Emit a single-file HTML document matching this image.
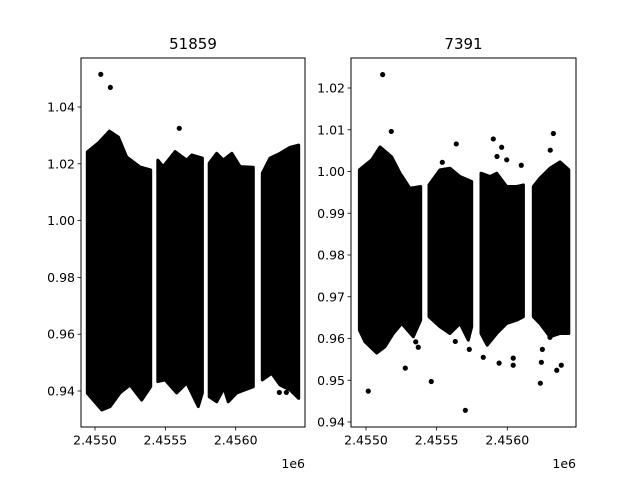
<!DOCTYPE html>
<html><head><meta charset="utf-8">
<style>
body{margin:0;background:#fff;}
svg{display:block;font-family:"DejaVu Sans","Liberation Sans",sans-serif;}
</style></head>
<body>
<svg id="chart" width="640" height="480" xmlns="http://www.w3.org/2000/svg"></svg>
<script>
// ---- Panel 1: 51859 ----
const p1Title = "51859";
const p1YTicks = [0.94, 0.96, 0.98, 1.00, 1.02, 1.04];
const p1XTicks = [2455000, 2455500, 2456000];
const p1XTickLabels = ["2.4550", "2.4555", "2.4560"];
const p1UpperT = [[-55,23,102,166,225,320,396],[446,485,569,652,687,763],[812,865,912,972,1031,1125],[1189,1244,1315,1386,1448]];
const p1UpperF = [[1.0242,1.0273,1.0315,1.0294,1.0224,1.0189,1.0178],[1.0213,1.019,1.0243,1.0213,1.0231,1.022],[1.0202,1.0237,1.0213,1.0237,1.019,1.0188],[1.0167,1.022,1.0237,1.0258,1.0266]];
const p1LowerT = [[-55,48,107,178,249,332,396],[446,498,581,652,734,763],[812,865,917,947,1007,1125],[1189,1256,1315,1386,1448]];
const p1LowerF = [[0.9392,0.9333,0.9345,0.9393,0.9421,0.9368,0.9415],[0.9433,0.9439,0.9393,0.9428,0.9345,0.9393],[0.938,0.9362,0.941,0.9362,0.9393,0.9415],[0.9439,0.9462,0.9421,0.9404,0.9374]];
const p1OutT = [41,109,599,1310,1360];
const p1OutF = [1.0515,1.0469,1.0325,0.9395,0.9395];

// ---- Panel 2: 7391 ----
const p2Title = "7391";
const p2YTicks = [0.94,0.95,0.96,0.97,0.98,0.99,1.00,1.01,1.02];
const p2XTicks = [2455000, 2455500, 2456000];
const p2XTickLabels = ["2.4550", "2.4555", "2.4560"];
const p2UpperT = [[-47,40,99,182,241,311,387],[446,524,594,665,748],[814,878,925,996,1067,1114],[1184,1231,1302,1373,1435]];
const p2UpperF = [[1.0004,1.0028,1.0059,1.0035,0.9996,0.996,0.9964],[0.9968,1.0004,1.0008,0.9988,0.9976],[0.9996,0.9988,0.9996,0.9964,0.9964,0.9968],[0.9964,0.9984,1.0008,1.0023,1.0004]];
const p2LowerT = [[-47,-7,76,134,193,253,335,387],[446,524,594,665,724,748],[814,858,925,996,1067,1114],[1184,1231,1302,1373,1435]];
const p2LowerF = [[0.962,0.9592,0.9565,0.958,0.9612,0.9636,0.9604,0.9644],[0.9652,0.9628,0.9612,0.9636,0.9596,0.9628],[0.9612,0.9584,0.9612,0.9636,0.9644,0.9652],[0.9652,0.9636,0.9604,0.9612,0.9612]];
const p2OutT = [118,179,639,540,901,960,927,996,1099,1326,1304,16,278,462,703,731,632,830,942,1042,1042,1234,1241,1248,1350,1382,370,352,19,1302];
const p2OutF = [1.0232,1.0096,1.0066,1.0022,1.0078,1.0058,1.0036,1.0028,1.0015,1.0091,1.0051,0.9474,0.9529,0.9497,0.9428,0.9574,0.9593,0.9555,0.9541,0.9553,0.9536,0.9493,0.9543,0.9574,0.9524,0.9536,0.9579,0.9592,0.9592,0.9603];

const NS = "http://www.w3.org/2000/svg";
const svg = document.getElementById('chart');
function mk(tag, attrs, parent){
  const e = document.createElementNS(NS, tag);
  for (const k in attrs) e.setAttribute(k, attrs[k]);
  (parent||svg).appendChild(e);
  return e;
}

function panel(cfg){
  const g = mk('g', {});
  
  
  const X = t => cfg.x0px + (t - cfg.t0) * cfg.xScale;
  const Y = f => cfg.y0px - (f - cfg.f0) * cfg.yScale;
  const cid = cfg.name + '-clip';
  const cp = mk('clipPath', {id: cid}, g);
  mk('rect', {x: cfg.L, y: cfg.T, width: cfg.R - cfg.L, height: cfg.B - cfg.T}, cp);
  const data = mk('g', {'clip-path': 'url(#' + cid + ')'}, g);
  
  
  for (let s = 0; s < cfg.upT.length; s++){
    const pts = [];
    for (let i = 0; i < cfg.upT[s].length; i++) pts.push(X(cfg.upT[s][i]).toFixed(1) + ',' + Y(cfg.upF[s][i]).toFixed(1));
    for (let i = cfg.loT[s].length - 1; i >= 0; i--) pts.push(X(cfg.loT[s][i]).toFixed(1) + ',' + Y(cfg.loF[s][i]).toFixed(1));
    const poly = mk('polygon', {points: pts.join(' '), fill: '#000', stroke: '#000', 'stroke-width': 3, 'stroke-linejoin': 'round'}, data);
    
    
  }
  for (let i = 0; i < cfg.outT.length; i++){
    const c = mk('circle', {cx: X(cfg.outT[i]), cy: Y(cfg.outF[i]), r: 2.6, fill: '#000'}, data);
    
    
  }
  const fr = mk('rect', {x: cfg.L, y: cfg.T, width: cfg.R - cfg.L, height: cfg.B - cfg.T, fill: 'none', stroke: '#000', 'stroke-width': 1}, g);
  
  
  cfg.yTicks.forEach(v => {
    const y = Y(v);
    mk('line', {x1: cfg.L - 3.5, x2: cfg.L, y1: y, y2: y, stroke: '#000', 'stroke-width': 0.8}, g);
    const t = mk('text', {x: cfg.L - 6, y: y + 4.5, 'text-anchor': 'end', 'font-size': 12.5}, g);
    t.textContent = v.toFixed(2);
    
    
  });
  cfg.xTicks.forEach((v, i) => {
    const x = X(v - 2455000);
    mk('line', {x1: x, x2: x, y1: cfg.B, y2: cfg.B + 3.5, stroke: '#000', 'stroke-width': 0.8}, g);
    const t = mk('text', {x: x, y: cfg.B + 17.5, 'text-anchor': 'middle', 'font-size': 12.5}, g);
    t.textContent = cfg.xLabels[i];
    
    
  });
  const off = mk('text', {x: cfg.R, y: cfg.B + 41, 'text-anchor': 'end', 'font-size': 12.5}, g);
  off.textContent = '1e6';
  
  
  const ti = mk('text', {x: (cfg.L + cfg.R) / 2, y: cfg.T - 9, 'text-anchor': 'middle', 'font-size': 15}, g);
  ti.textContent = cfg.title;
  
  
}

panel({name: 'panel-51859', title: p1Title, L: 81, R: 305, T: 58, B: 427,
  x0px: 95, t0: 0, xScale: 0.1407, y0px: 391, f0: 0.94, yScale: 2840,
  yTicks: p1YTicks, xTicks: p1XTicks, xLabels: p1XTickLabels,
  upT: p1UpperT, upF: p1UpperF, loT: p1LowerT, loF: p1LowerF, outT: p1OutT, outF: p1OutF});
panel({name: 'panel-7391', title: p2Title, L: 351, R: 576, T: 58, B: 427,
  x0px: 366, t0: 0, xScale: 0.1413, y0px: 422, f0: 0.94, yScale: 4175,
  yTicks: p2YTicks, xTicks: p2XTicks, xLabels: p2XTickLabels,
  upT: p2UpperT, upF: p2UpperF, loT: p2LowerT, loF: p2LowerF, outT: p2OutT, outF: p2OutF});
</script>
</body></html>
